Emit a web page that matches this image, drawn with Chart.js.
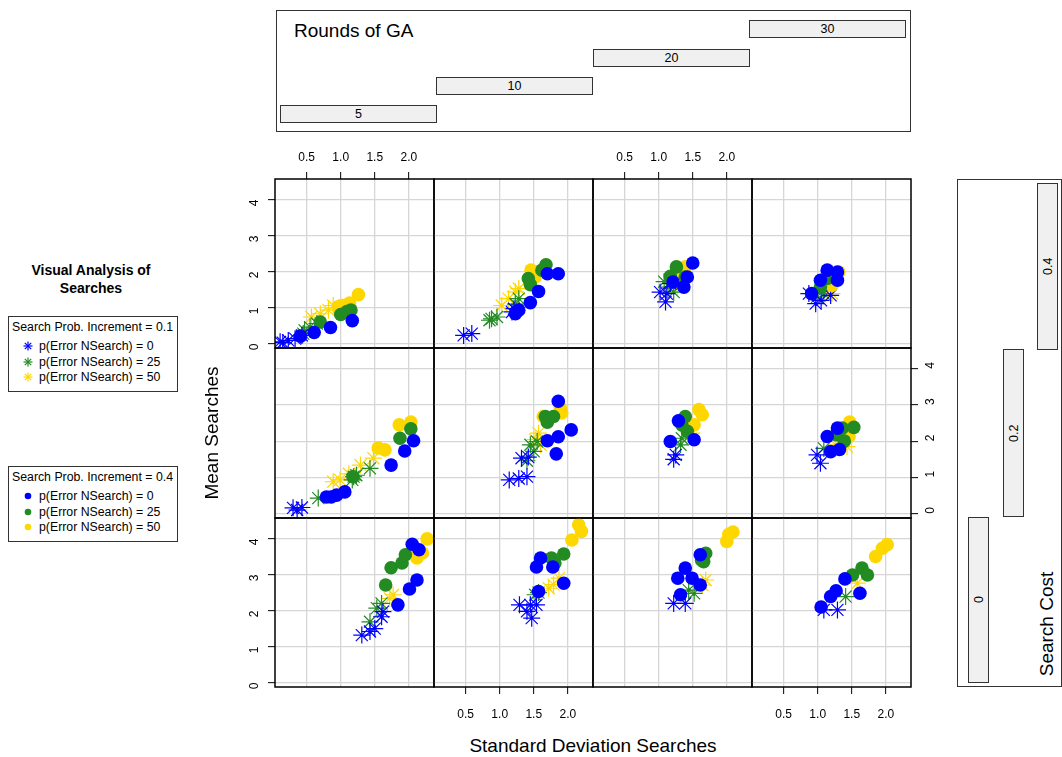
<!DOCTYPE html>
<html>
<head>
<meta charset="utf-8">
<script src="https://cdn.jsdelivr.net/npm/chart.js@4"></script>
<style>
  body { margin: 0; background: #fff; font-family: "Liberation Sans", Arial, sans-serif; color: #000; }
  #page { position: relative; width: 1062px; height: 757px; overflow: hidden; }
  .abs { position: absolute; }
  .strip { position: absolute; background: #f0f0f0; border: 1px solid #333; box-sizing: border-box;
           font-size: 12.5px; text-align: center; display: flex; align-items: center; justify-content: center; }
  .vstrip { writing-mode: vertical-rl; transform: rotate(180deg); }
  .legend { position: absolute; border: 1px solid #333; box-sizing: border-box; font-size: 12.3px; background: #fff; }
  .legend .ttl { position: absolute; left: 3px; top: 3px; white-space: nowrap; }
  .legend .item { position: absolute; left: 14px; white-space: nowrap; display: flex; align-items: center; }
  .legend svg { margin-right: 6px; }
</style>
</head>
<body>
<div id="page"></div>
<script>
// lattice factors
const roundsGA = [5, 10, 20, 30];
const searchCosts = [0.4, 0.2, 0];          // top row to bottom row
const probIncrements = [0.1, 0.4];
const errorLevels = [0, 25, 50];
const groupColors = ['#0000ff', '#228b22', '#ffd700'];

// tick labels
const xTicks = [0.5, 1.0, 1.5, 2.0];
const yTicks = [0, 1, 2, 3, 4];

// [sd, mean] points per panel; groups: inc 0.1 (err 0, 25, 50), inc 0.4 (err 0, 25, 50)
const cost04_ga05 = [
  [[0.11, 0.05], [0.15, 0.03], [0.23, 0.09], [0.33, 0.14], [0.43, 0.23]],
  [[0.45, 0.28], [0.47, 0.37], [0.55, 0.46], [0.65, 0.56]],
  [[0.57, 0.74], [0.70, 0.83], [0.82, 0.93], [0.89, 1.06]],
  [[0.41, 0.21], [0.61, 0.31], [0.85, 0.45], [1.17, 0.64]],
  [[0.70, 0.60], [1.00, 0.81], [1.09, 0.89], [1.15, 0.93]],
  [[0.96, 1.02], [1.02, 1.06], [1.13, 1.13], [1.26, 1.36]]
];
const cost04_ga10 = [
  [[0.47, 0.23], [0.59, 0.28], [1.18, 0.88], [1.21, 0.97]],
  [[0.85, 0.65], [0.88, 0.69], [0.96, 0.74], [1.23, 1.10], [1.28, 1.25]],
  [[1.03, 1.06], [1.13, 1.25], [1.23, 1.44], [1.28, 1.53]],
  [[1.23, 0.83], [1.28, 0.93], [1.45, 1.14], [1.57, 1.45], [1.70, 1.94], [1.86, 1.94]],
  [[1.42, 1.81], [1.45, 1.64], [1.62, 2.04], [1.68, 2.19]],
  [[1.46, 2.04], [1.52, 1.85], [1.48, 1.95]]
];
const cost04_ga20 = [
  [[1.02, 1.43], [1.10, 1.16], [1.12, 1.39], [1.17, 1.67]],
  [[1.08, 1.72], [1.15, 1.57], [1.22, 1.43]],
  [[1.27, 1.57], [1.32, 1.67]],
  [[1.21, 1.71], [1.37, 1.57], [1.42, 1.85], [1.50, 2.24]],
  [[1.17, 1.87], [1.26, 2.13], [1.39, 1.85]],
  [[1.29, 1.94], [1.34, 2.04], [1.39, 2.13]]
];
const cost04_ga30 = [
  [[0.87, 1.39], [0.97, 1.11], [1.05, 1.20], [1.19, 1.34]],
  [[0.99, 1.30], [1.09, 1.39]],
  [[1.21, 1.39], [1.16, 1.50]],
  [[0.91, 1.39], [1.04, 1.76], [1.14, 2.04], [1.29, 1.99], [1.29, 1.76]],
  [[1.04, 1.57], [1.14, 1.81], [1.19, 1.85]],
  [[1.21, 1.62], [1.26, 1.76], [1.31, 1.99]]
];
const cost02_ga05 = [
  [[0.30, 0.16], [0.36, 0.10], [0.43, 0.17]],
  [[0.67, 0.43], [1.17, 0.93], [1.19, 1.02], [1.23, 1.06], [1.43, 1.25]],
  [[0.89, 0.88], [0.99, 0.93], [1.12, 1.10], [1.29, 1.34], [1.48, 1.53]],
  [[0.79, 0.46], [0.86, 0.46], [0.94, 0.51], [1.06, 0.60], [1.74, 1.34], [1.94, 1.73], [2.07, 2.01]],
  [[1.18, 1.02], [1.87, 2.08], [2.03, 2.34]],
  [[1.55, 1.81], [1.65, 1.76], [1.86, 2.45], [2.03, 2.53]]
];
const cost02_ga10 = [
  [[1.14, 0.93], [1.28, 0.97], [1.40, 1.02], [1.32, 1.53], [1.42, 1.56]],
  [[1.40, 1.46], [1.45, 1.90], [1.50, 1.72], [1.55, 1.99]],
  [[1.52, 2.04], [1.57, 2.22], [1.60, 1.90]],
  [[1.70, 2.01], [1.83, 1.65], [1.86, 2.12], [2.05, 2.31], [1.86, 3.10]],
  [[1.67, 2.68], [1.70, 2.52], [1.79, 2.68]],
  [[1.64, 2.68], [1.89, 2.92], [1.91, 2.78]]
];
const cost02_ga20 = [
  [[1.22, 1.50], [1.25, 1.62]],
  [[1.32, 1.90], [1.34, 2.08]],
  [[1.42, 2.34], [1.49, 2.22]],
  [[1.17, 1.99], [1.29, 2.56], [1.52, 2.04]],
  [[1.34, 2.45], [1.39, 2.68], [1.42, 2.27]],
  [[1.52, 2.45], [1.59, 2.87], [1.64, 2.73]]
];
const cost02_ga30 = [
  [[0.99, 1.62], [1.04, 1.39]],
  [[1.09, 1.80]],
  [[1.26, 1.90], [1.43, 1.85]],
  [[1.14, 2.13], [1.19, 1.71], [1.29, 2.36], [1.32, 1.77]],
  [[1.27, 2.18], [1.36, 2.36], [1.39, 2.00], [1.53, 2.38]],
  [[1.41, 2.36], [1.46, 2.13], [1.47, 2.53]]
];
const cost00_ga05 = [
  [[1.31, 1.32], [1.43, 1.42], [1.50, 1.50], [1.60, 1.83], [1.62, 1.97]],
  [[1.43, 1.69], [1.53, 2.07], [1.60, 2.20]],
  [[1.72, 2.34], [1.77, 2.44]],
  [[1.84, 2.16], [2.01, 2.60], [2.12, 2.85], [2.05, 3.84], [2.15, 3.69]],
  [[1.66, 2.71], [1.74, 3.19], [1.90, 3.32], [1.95, 3.55]],
  [[2.05, 3.69], [2.12, 3.46], [2.20, 3.60], [2.27, 3.99]]
];
const cost00_ga10 = [
  [[1.29, 2.16], [1.40, 1.98], [1.45, 2.16], [1.47, 1.79], [1.54, 2.16]],
  [[1.52, 2.44], [1.57, 2.50]],
  [[1.72, 2.62], [1.79, 2.72], [1.87, 2.90]],
  [[1.57, 2.53], [1.54, 3.21], [1.60, 3.46], [1.78, 3.21], [1.94, 2.76]],
  [[1.76, 3.46], [1.81, 3.32], [1.94, 3.57]],
  [[2.06, 3.96], [2.16, 4.38], [2.20, 4.20]]
];
const cost00_ga20 = [
  [[1.22, 2.20], [1.39, 2.20]],
  [[1.44, 2.57], [1.52, 2.48]],
  [[1.64, 2.71], [1.69, 2.85]],
  [[1.28, 2.90], [1.32, 2.44], [1.39, 3.18], [1.49, 2.90], [1.61, 2.71], [1.61, 3.55]],
  [[1.63, 3.40], [1.66, 3.36], [1.69, 3.59]],
  [[2.00, 3.92], [2.03, 4.12], [2.09, 4.18]]
];
const cost00_ga30 = [
  [[1.09, 2.02], [1.29, 2.02]],
  [[1.41, 2.39]],
  [[1.58, 2.76]],
  [[1.05, 2.10], [1.19, 2.39], [1.27, 2.55], [1.40, 2.88], [1.62, 2.48]],
  [[1.51, 2.99], [1.65, 3.18], [1.73, 2.99]],
  [[1.85, 3.50], [1.95, 3.73], [2.02, 3.83]]
];

const panelData = [
  [cost04_ga05, cost04_ga10, cost04_ga20, cost04_ga30],
  [cost02_ga05, cost02_ga10, cost02_ga20, cost02_ga30],
  [cost00_ga05, cost00_ga10, cost00_ga20, cost00_ga30]
];

// panel geometry (page pixels)
const colEdges = [275, 434, 593, 752, 911];
const rowEdges = [179, 348, 518, 687];
const M = 40;

const page = document.getElementById('page');
const FONT = '"Liberation Sans", Arial, sans-serif';
Chart.defaults.font.family = FONT;
Chart.defaults.color = '#000';

function addDiv(html, style, cls) {
  const d = document.createElement('div');
  d.className = cls || 'abs';
  d.innerHTML = html;
  Object.assign(d.style, style);
  page.appendChild(d);
  return d;
}

// draws the black frame round each panel
const framePlugin = {
  id: 'frame',
  afterDraw(chart) {
    const a = chart.chartArea, ctx = chart.ctx;
    ctx.save();
    ctx.strokeStyle = '#000';
    ctx.lineWidth = 1.5;
    ctx.strokeRect(a.left, a.top, a.right - a.left, a.bottom - a.top);
    ctx.restore();
  }
};

function makePanel(r, c) {
  const w = colEdges[c + 1] - colEdges[c];
  const h = rowEdges[r + 1] - rowEdges[r];
  const holder = addDiv('', { left: (colEdges[c] - M) + 'px', top: (rowEdges[r] - M) + 'px',
                              width: (w + 2 * M) + 'px', height: (h + 2 * M) + 'px' });
  const canvas = document.createElement('canvas');
  canvas.width = w + 2 * M;
  canvas.height = h + 2 * M;
  holder.appendChild(canvas);

  const showTop = r === 0 && c % 2 === 0;
  const showBottom = r === 2 && c % 2 === 1;
  const showLeft = c === 0 && r !== 1;
  const showRight = c === 3 && r === 1;
  const xPos = showTop ? 'top' : 'bottom';
  const yPos = showRight ? 'right' : 'left';
  const showX = showTop || showBottom;
  const showY = showLeft || showRight;

  const datasets = [];
  panelData[r][c].forEach((pts, g) => {
    const inc = Math.floor(g / 3), err = g % 3;
    datasets.push({
      label: 'inc ' + probIncrements[inc] + ' err ' + errorLevels[err],
      data: pts.map(p => ({ x: p[0], y: p[1] })),
      pointStyle: inc === 0 ? 'star' : 'circle',
      radius: inc === 0 ? 8.5 : 6.8,
      borderWidth: inc === 0 ? 1.2 : 0,
      borderColor: groupColors[err],
      backgroundColor: groupColors[err],
      order: inc === 0 ? 1 : 0
    });
  });

  new Chart(canvas, {
    type: 'scatter',
    data: { datasets: datasets },
    options: {
      responsive: false,
      animation: false,
      devicePixelRatio: 1,
      events: [],
      layout: {
        autoPadding: false,
        padding: {
          top: xPos === 'top' ? 0 : M,
          bottom: xPos === 'bottom' ? 0 : M,
          left: yPos === 'left' ? 0 : M,
          right: yPos === 'right' ? 0 : M
        }
      },
      plugins: { legend: { display: false }, tooltip: { enabled: false } },
      scales: {
        x: {
          type: 'linear',
          position: xPos,
          min: 0.035,
          max: 2.37,
          afterBuildTicks: s => { s.ticks = xTicks.map(v => ({ value: v })); },
          afterFit: s => { s.height = M; },
          border: { display: false },
          grid: { color: '#d6d6d6', lineWidth: 1.3, drawTicks: showX, tickLength: 7, tickColor: '#000', tickWidth: 1 },
          ticks: { display: showX, maxRotation: 0, padding: showTop ? 7 : 13, font: { size: 12 },
                   callback: v => Number(v).toFixed(1) }
        },
        y: {
          type: 'linear',
          position: yPos,
          min: -0.12,
          max: 4.57,
          afterBuildTicks: s => { s.ticks = yTicks.map(v => ({ value: v })); },
          afterFit: s => { s.width = M; },
          border: { display: false },
          grid: { color: '#d6d6d6', lineWidth: 1.3, drawTicks: showY, tickLength: 7, tickColor: '#000', tickWidth: 1 },
          ticks: { display: showY, minRotation: 90, maxRotation: 90, padding: 13, font: { size: 12 },
                   callback: v => String(v) }
        }
      }
    },
    plugins: [framePlugin]
  });
}

for (let r = 0; r < 3; r++) {
  for (let c = 0; c < 4; c++) makePanel(r, c);
}

// "Rounds of GA" key on top
addDiv('', { left: '276px', top: '10px', width: '635px', height: '122px', border: '1px solid #333', boxSizing: 'border-box' });
addDiv('Rounds of GA', { left: '294px', top: '20px', fontSize: '19px', whiteSpace: 'nowrap' });
const roundStripLefts = [280, 436, 593, 749];
const roundStripTops = [105, 77, 49, 20];
roundsGA.forEach((g, i) => {
  addDiv(String(g), { left: roundStripLefts[i] + 'px', top: roundStripTops[i] + 'px',
                      width: '157px', height: '18px' }, 'strip');
});

// "Search Cost" key on the right
addDiv('', { left: '957px', top: '179px', width: '105px', height: '508px', border: '1px solid #333', boxSizing: 'border-box' });
const costStripLefts = [1037, 1003, 968];
const costStripTops = [183, 349, 517];
const costStripHeights = [167, 168, 166];
searchCosts.forEach((sc, i) => {
  addDiv(String(sc), { left: costStripLefts[i] + 'px', top: costStripTops[i] + 'px',
                       width: '21px', height: costStripHeights[i] + 'px' }, 'strip vstrip');
});
addDiv('Search Cost', { left: '1047px', top: '624px', fontSize: '19px', whiteSpace: 'nowrap',
                        transform: 'translate(-50%, -50%) rotate(-90deg)' });

// axis titles
addDiv('Mean Searches', { left: '212px', top: '433px', fontSize: '19px', whiteSpace: 'nowrap',
                          transform: 'translate(-50%, -50%) rotate(-90deg)' });
addDiv('Standard Deviation Searches', { left: '593px', top: '746px', fontSize: '19px', whiteSpace: 'nowrap',
                                        transform: 'translate(-50%, -50%)' });

// left side title and legends
addDiv('Visual Analysis of<br>Searches', { left: '0px', top: '261px', width: '182px', textAlign: 'center',
                                           fontSize: '14px', fontWeight: 'bold', lineHeight: '18px' });

function symbol(inc, color) {
  if (inc === 0) {
    return '<svg width="10" height="10" viewBox="-5 -5 10 10"><g stroke="' + color + '" stroke-width="1.2">' +
           '<line x1="-4.5" y1="0" x2="4.5" y2="0"/><line x1="0" y1="-4.5" x2="0" y2="4.5"/>' +
           '<line x1="-3.2" y1="-3.2" x2="3.2" y2="3.2"/><line x1="-3.2" y1="3.2" x2="3.2" y2="-3.2"/></g></svg>';
  }
  return '<svg width="10" height="10" viewBox="-5 -5 10 10"><circle r="3.3" fill="' + color + '"/></svg>';
}

const legendTops = [316, 466];
probIncrements.forEach((inc, i) => {
  let html = '<div class="ttl">Search Prob. Increment = ' + inc + '</div>';
  errorLevels.forEach((e, j) => {
    html += '<div class="item" style="top:' + (22 + j * 15.5) + 'px">' + symbol(i, groupColors[j]) +
            'p(Error NSearch) = ' + e + '</div>';
  });
  addDiv(html, { left: '8px', top: legendTops[i] + 'px', width: '170px', height: '76px' }, 'legend');
});
</script>
</body>
</html>
